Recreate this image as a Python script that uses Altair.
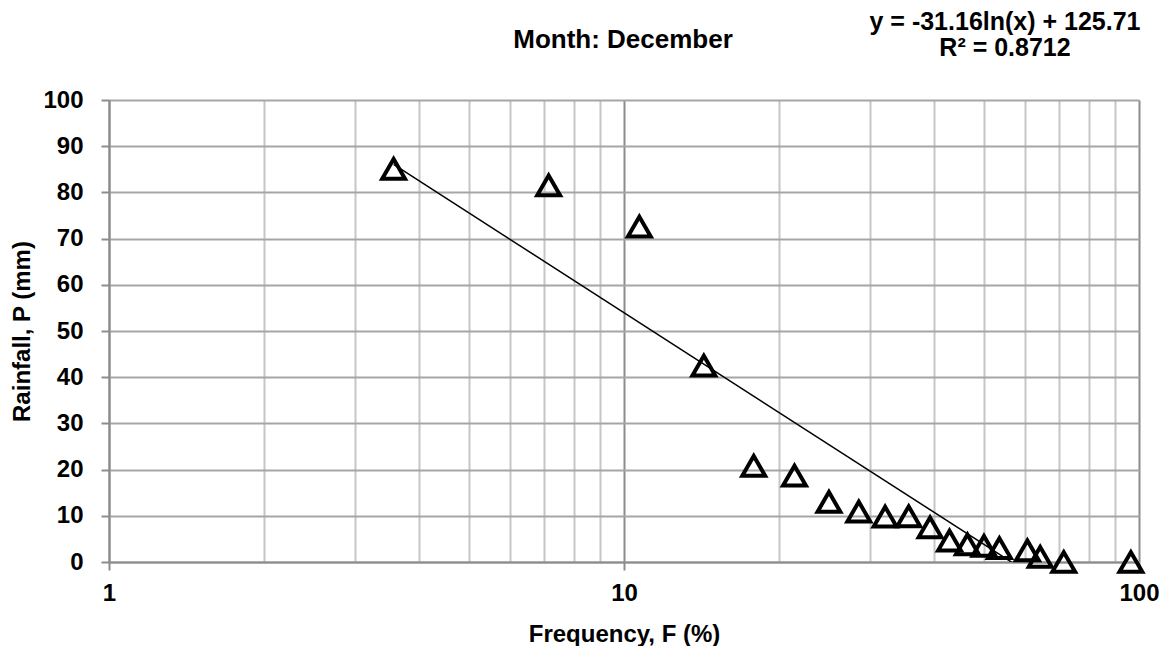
import altair as alt
import pandas as pd

# Frequency (%) and rainfall (mm)
FREQ = [3.57, 7.14, 10.71, 14.29, 17.86, 21.43, 25.0, 28.57, 32.14, 35.71,
        39.29, 42.86, 46.43, 50.0, 53.57, 60.71, 64.29, 71.43, 96.43]
RAIN = [85.1, 81.5, 72.6, 42.5, 20.8, 18.7, 13.0, 10.9, 9.8, 9.9,
        7.5, 4.6, 3.8, 3.5, 3.0, 2.5, 1.1, 0.0, 0.0]

# Logarithmic trendline reported on the chart
TREND_A = -31.16
TREND_B = 125.71
EQ_LINES = ["y = -31.16ln(x) + 125.71", "R² = 0.8712"]
TITLE = "Month: December"

X_TICKS = [1, 2, 3, 4, 5, 6, 7, 8, 9, 10, 20, 30, 40, 50, 60, 70, 80, 90, 100]
Y_TICKS = [0, 10, 20, 30, 40, 50, 60, 70, 80, 90, 100]

FONT = "Liberation Sans"

df = pd.DataFrame({"F": FREQ, "P": RAIN})
trend_df = pd.DataFrame({"F": [min(FREQ), max(FREQ)]})

major = "datum.value == 1 || datum.value == 10 || datum.value == 100"

x_enc = alt.X(
    "F:Q",
    scale=alt.Scale(type="log", domain=[1, 100], nice=False),
    axis=alt.Axis(
        title="Frequency, F (%)",
        values=X_TICKS,
        labelExpr=f"({major}) ? datum.label : ''",
        format="d",
        labelFlush=False,
        labelOverlap=False,
        gridColor={"condition": {"test": major, "value": "#8c8c8c"}, "value": "#c6c6c6"},
        gridWidth=2,
        tickColor={"condition": {"test": major, "value": "#8c8c8c"}, "value": "transparent"},
        tickSize=8,
        tickWidth=2,
        domainColor="#8c8c8c",
        domainWidth=2,
        labelFont=FONT,
        labelFontSize=24,
        labelFontWeight="bold",
        labelColor="black",
        labelPadding=11,
        titleFont=FONT,
        titleFontSize=24,
        titleFontWeight="bold",
        titleColor="black",
        titleY=72,
        titleBaseline="middle",
    ),
)

y_enc = alt.Y(
    "P:Q",
    scale=alt.Scale(domain=[0, 100], nice=False),
    axis=alt.Axis(
        title="Rainfall, P (mm)",
        values=Y_TICKS,
        gridColor="#a6a6a6",
        gridWidth=2,
        tickColor="#8c8c8c",
        tickSize=8,
        tickWidth=2,
        domainColor="#8c8c8c",
        domainWidth=2,
        labelFont=FONT,
        labelFontSize=24,
        labelFontWeight="bold",
        labelColor="black",
        labelPadding=18,
        titleFont=FONT,
        titleFontSize=24,
        titleFontWeight="bold",
        titleColor="black",
        titleX=-87,
        titleY=231,
        titleAngle=270,
        titleAlign="center",
        titleBaseline="middle",
    ),
)

points = alt.Chart(df).mark_point(
    shape="triangle-up", filled=False, size=520, stroke="black", strokeWidth=4, opacity=1
).encode(x=x_enc, y=y_enc)

trend = alt.Chart(trend_df).transform_calculate(
    P=f"{TREND_A} * log(datum.F) + {TREND_B}"
).mark_line(color="black", strokeWidth=1.5, clip=True).encode(x="F:Q", y="P:Q")

anno = pd.DataFrame({"a": [0]})

eq = alt.Chart(anno).mark_text(
    font=FONT, fontSize=25, fontWeight="bold", color="black",
    align="center", baseline="middle", lineHeight=26
).encode(x=alt.value(896), y=alt.value(-78), text=alt.value(EQ_LINES))

title = alt.Chart(anno).mark_text(
    font=FONT, fontSize=26, fontWeight="bold", color="black",
    align="center", baseline="middle"
).encode(x=alt.value(514), y=alt.value(-60), text=alt.value(TITLE))

chart = alt.layer(trend, points, eq, title).properties(
    width=1030,
    height=462,
    autosize=alt.AutoSizeParams(type="none"),
    padding={"left": 101, "top": 92, "right": 20, "bottom": 84},
).configure_view(stroke=None).configure(background="white")

chart.save("out.html", embed_options={"renderer": "svg", "actions": False})
